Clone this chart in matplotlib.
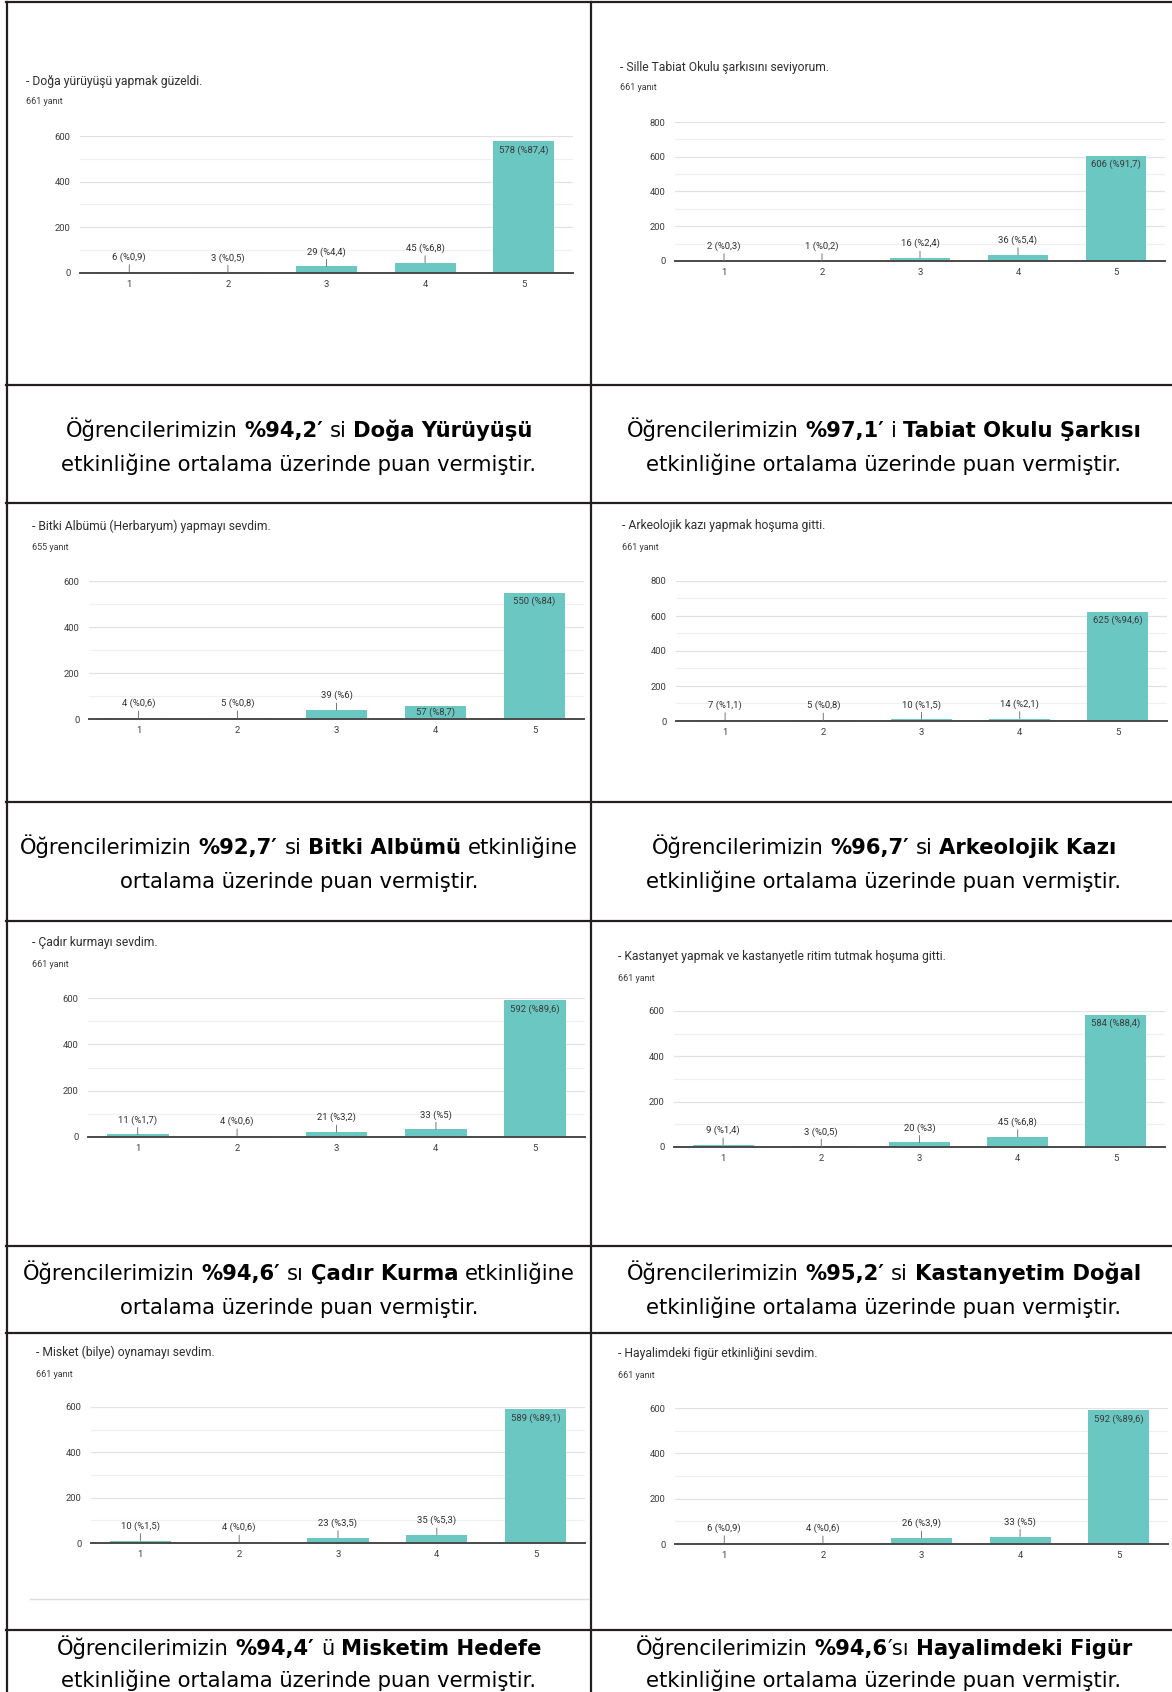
import matplotlib
matplotlib.use("Agg")
import matplotlib.pyplot as plt
from matplotlib.ticker import MultipleLocator

# --- data ---
categories = [1, 2, 3, 4, 5]

doga_title = "- Doğa yürüyüşü yapmak güzeldi."
doga_n = 661
doga_counts = [6, 3, 29, 45, 578]
doga_pcts = ["0,9", "0,5", "4,4", "6,8", "87,4"]

sarki_title = "- Sille Tabiat Okulu şarkısını seviyorum."
sarki_n = 661
sarki_counts = [2, 1, 16, 36, 606]
sarki_pcts = ["0,3", "0,2", "2,4", "5,4", "91,7"]

bitki_title = "- Bitki Albümü (Herbaryum) yapmayı sevdim."
bitki_n = 655
bitki_counts = [4, 5, 39, 57, 550]
bitki_pcts = ["0,6", "0,8", "6", "8,7", "84"]

arkeo_title = "- Arkeolojik kazı yapmak hoşuma gitti."
arkeo_n = 661
arkeo_counts = [7, 5, 10, 14, 625]
arkeo_pcts = ["1,1", "0,8", "1,5", "2,1", "94,6"]

cadir_title = "- Çadır kurmayı sevdim."
cadir_n = 661
cadir_counts = [11, 4, 21, 33, 592]
cadir_pcts = ["1,7", "0,6", "3,2", "5", "89,6"]

kastanyet_title = "- Kastanyet yapmak ve kastanyetle ritim tutmak hoşuma gitti."
kastanyet_n = 661
kastanyet_counts = [9, 3, 20, 45, 584]
kastanyet_pcts = ["1,4", "0,5", "3", "6,8", "88,4"]

misket_title = "- Misket (bilye) oynamayı sevdim."
misket_n = 661
misket_counts = [10, 4, 23, 35, 589]
misket_pcts = ["1,5", "0,6", "3,5", "5,3", "89,1"]

figur_title = "- Hayalimdeki figür etkinliğini sevdim."
figur_n = 661
figur_counts = [6, 4, 26, 33, 592]
figur_pcts = ["0,9", "0,6", "3,9", "5", "89,6"]

# caption text: (text, bold) pieces for first line, then second line
cap_doga = [("Öğrencilerimizin ", False), ("%94,2′", True), (" si ", False), ("Doğa Yürüyüşü", True)]
cap_sarki = [("Öğrencilerimizin ", False), ("%97,1′", True), (" i ", False), ("Tabiat Okulu Şarkısı", True)]
cap_bitki = [("Öğrencilerimizin ", False), ("%92,7′", True), (" si ", False), ("Bitki Albümü", True), (" etkinliğine", False)]
cap_arkeo = [("Öğrencilerimizin ", False), ("%96,7′", True), (" si ", False), ("Arkeolojik Kazı", True)]
cap_cadir = [("Öğrencilerimizin ", False), ("%94,6′", True), (" sı ", False), ("Çadır Kurma", True), (" etkinliğine", False)]
cap_kastanyet = [("Öğrencilerimizin ", False), ("%95,2′", True), (" si ", False), ("Kastanyetim Doğal", True)]
cap_misket = [("Öğrencilerimizin ", False), ("%94,4′", True), (" ü ", False), ("Misketim Hedefe", True)]
cap_figur = [("Öğrencilerimizin ", False), ("%94,6", True), ("′sı ", False), ("Hayalimdeki Figür", True)]
line2_long = "etkinliğine ortalama üzerinde puan vermiştir."
line2_short = "ortalama üzerinde puan vermiştir."

# --- layout in pixels of the 1172x1692 page ---
W, H = 1172, 1692
TEAL = "#6ac7c2"
LINE = "#231f20"

fig = plt.figure(figsize=(W / 100, H / 100), dpi=100)
fig.patch.set_facecolor("white")


def fx(x):
    return x / W


def fy(y):
    return 1 - y / H


# (left, right, zero_y, top_y, title_x, title_y, n_y)
charts = [
    (doga_title, doga_n, doga_counts, doga_pcts, 600, [], (80, 573, 273, 136, 26, 81, 102)),
    (sarki_title, sarki_n, sarki_counts, sarki_pcts, 800, [], (675, 1165, 261, 122, 620, 67, 88)),
    (bitki_title, bitki_n, bitki_counts, bitki_pcts, 600, [3], (89, 584, 719, 581, 32, 526, 547)),
    (arkeo_title, arkeo_n, arkeo_counts, arkeo_pcts, 800, [], (676, 1167, 721, 581, 622, 526, 547)),
    (cadir_title, cadir_n, cadir_counts, cadir_pcts, 600, [], (88, 585, 1137, 998, 32, 942, 964)),
    (kastanyet_title, kastanyet_n, kastanyet_counts, kastanyet_pcts, 600, [], (674, 1165, 1147, 1011, 618, 956, 978)),
    (misket_title, misket_n, misket_counts, misket_pcts, 600, [], (91, 585, 1543, 1407, 36, 1352, 1374)),
    (figur_title, figur_n, figur_counts, figur_pcts, 600, [], (675, 1168, 1544, 1408, 618, 1353, 1375)),
]

for title, n, counts, pcts, ymax, inside_mid, lay in charts:
    left, right, zero_y, top_y, tx, ty, ny = lay
    ax = fig.add_axes([fx(left), fy(zero_y), (right - left) / W, (zero_y - top_y) / H])
    ax.bar(categories, counts, width=0.62, color=TEAL, zorder=3)
    ax.set_xlim(0.5, 5.5)
    ax.set_ylim(0, ymax)
    ax.yaxis.set_major_locator(MultipleLocator(200))
    ax.yaxis.set_minor_locator(MultipleLocator(100))
    ax.grid(axis="y", which="major", color="#e2e2e2", lw=0.9, zorder=0)
    ax.grid(axis="y", which="minor", color="#f0f0f0", lw=0.9, zorder=0)
    for s in ["top", "left", "right"]:
        ax.spines[s].set_visible(False)
    ax.spines["bottom"].set_color("#4a4a4a")
    ax.spines["bottom"].set_linewidth(1.4)
    ax.spines["bottom"].set_zorder(4)
    ax.set_xticks(categories)
    ax.tick_params(axis="both", which="both", length=0, labelsize=6.8, colors="#3c3c3c")
    ax.tick_params(axis="y", pad=7)
    ax.tick_params(axis="x", pad=5)
    for lab in ax.get_xticklabels() + ax.get_yticklabels():
        lab.set_family("Roboto")

    for i, (c, p) in enumerate(zip(counts, pcts)):
        txt = f"{c} (%{p})"
        if i == 4:
            ax.annotate(txt, xy=(categories[i], c), xytext=(0, -3), textcoords="offset points",
                        ha="center", va="top", fontsize=6.8, color="#3a3a3a", family="Roboto", zorder=5)
        elif i in inside_mid:
            ax.text(categories[i], c / 2, txt, ha="center", va="center", fontsize=6.8,
                    color="#3a3a3a", family="Roboto", zorder=5)
        else:
            ax.annotate(txt, xy=(categories[i], c), xytext=(0, 7), textcoords="offset points",
                        ha="center", va="bottom", fontsize=6.8, color="#2e2e2e", family="Roboto", zorder=5,
                        arrowprops=dict(arrowstyle="-", color="#777777", lw=0.7, shrinkA=0, shrinkB=0))

    fig.text(fx(tx), fy(ty), title, ha="left", va="center", fontsize=8.7, color="#2e2e2e", family="Roboto")
    fig.text(fx(tx), fy(ny), f"{n} yanıt", ha="left", va="center", fontsize=6.5, color="#3c3c3c", family="Roboto")

# light gray edge under the last left screenshot
fig.add_artist(plt.Line2D([fx(30), fx(588)], [fy(1599), fy(1599)], color="#dddddd", lw=1))

# --- table grid ---
for y in [2, 385, 503, 802, 921, 1246, 1333, 1630]:
    fig.add_artist(plt.Line2D([fx(6), 1], [fy(y), fy(y)], color=LINE, lw=1.6))
for x in [7, 591]:
    fig.add_artist(plt.Line2D([fx(x), fx(x)], [fy(2), 0], color=LINE, lw=1.6))

# --- captions with mixed bold pieces ---
renderer = fig.canvas.get_renderer()
CAP_SIZE = 15.2


def piece_width(s, bold):
    t = fig.text(0, 0, s, fontsize=CAP_SIZE, family="DejaVu Sans",
                 fontweight="bold" if bold else "normal")
    w = t.get_window_extent(renderer).width
    t.remove()
    return w


def draw_line(pieces, cx, cy):
    parts = []
    total = 0
    for s, bold in pieces:
        core = s.strip()
        lead = len(s) - len(s.lstrip())
        trail = len(s) - len(s.rstrip())
        sp = piece_width("a a", bold) - piece_width("aa", bold)
        w = piece_width(core, bold)
        parts.append((core, bold, total + lead * sp))
        total += lead * sp + w + trail * sp
    x0 = cx - total / 2
    # shared baseline so regular and bold pieces line up
    for core, bold, off in parts:
        fig.text(fx(x0 + off), fy(cy + 8), core, ha="left", va="baseline", fontsize=CAP_SIZE,
                 family="DejaVu Sans", fontweight="bold" if bold else "normal", color="black")


captions = [
    (cap_doga, [(line2_long, False)], 299, 429, 463),
    (cap_sarki, [(line2_long, False)], 884, 429, 463),
    (cap_bitki, [(line2_short, False)], 299, 846, 880),
    (cap_arkeo, [(line2_long, False)], 884, 846, 880),
    (cap_cadir, [(line2_short, False)], 299, 1272, 1306),
    (cap_kastanyet, [(line2_long, False)], 884, 1272, 1306),
    (cap_misket, [(line2_long, False)], 299, 1647, 1679),
    (cap_figur, [(line2_long, False)], 884, 1647, 1679),
]
for first, second, cx, y1, y2 in captions:
    draw_line(first, cx, y1)
    draw_line(second, cx, y2)

fig.savefig("out.png", dpi=100)
